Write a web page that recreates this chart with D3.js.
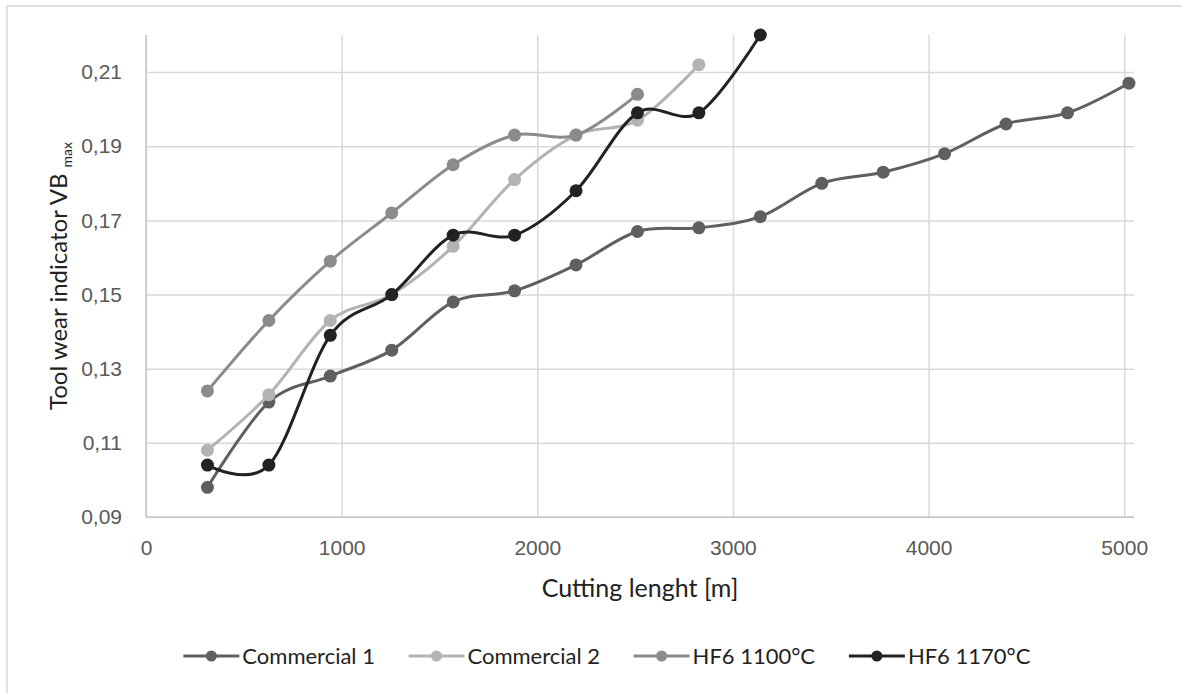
<!DOCTYPE html>
<html lang="en">
<head>
    <meta charset="UTF-8">
    <title>Tool wear vs cutting length</title>
    <style>
    body { margin: 0; background: #fff; }
    svg { font-family: Lato, "Open Sans", sans-serif; }
    .line { fill: none; stroke-width: 3px; }
    .grid line { stroke: #d9d9d9; stroke-width: 1.5px; }
    .grid path { stroke: none; }
    .tick text { fill: #595959; font-size: 21px; }
    </style>
</head>
<body>
    <svg width="1182" height="693"></svg>
    <script src="https://d3js.org/d3.v7.min.js"></script>
    <script type="text/javascript">
        // cutting length [m] at each measurement
        var cuttingLength = [314, 628, 942, 1256, 1570, 1884, 2198, 2512, 2826, 3140, 3454, 3768, 4082, 4396, 4710, 5024];

        // VBmax per series
        var commercial1 = [0.098, 0.121, 0.128, 0.135, 0.148, 0.151, 0.158, 0.167, 0.168, 0.171, 0.180, 0.183, 0.188, 0.196, 0.199, 0.207];
        var commercial2 = [0.108, 0.123, 0.143, 0.150, 0.163, 0.181, 0.193, 0.197, 0.212];
        var hf6_1100 = [0.124, 0.143, 0.159, 0.172, 0.185, 0.193, 0.193, 0.204];
        var hf6_1170 = [0.104, 0.104, 0.139, 0.150, 0.166, 0.166, 0.178, 0.199, 0.199, 0.220];

        var seriesNames = ["Commercial 1", "Commercial 2", "HF6 1100°C", "HF6 1170°C"];
        var seriesColors = ["#5f5f5f", "#b3b3b3", "#8b8b8b", "#222222"];

        var xTicks = [0, 1000, 2000, 3000, 4000, 5000];
        var yTicks = [0.09, 0.11, 0.13, 0.15, 0.17, 0.19, 0.21];

        var svg = d3.select("svg"),
            plot = {left: 146, right: 1134, top: 35, bottom: 517};

        var x = d3.scaleLinear().domain([0, 5050]).range([plot.left, plot.right]),
            y = d3.scaleLinear().domain([0.09, 0.22]).range([plot.bottom, plot.top]);

        var comma = d3.formatLocale({decimal: ",", thousands: ".", grouping: [3], currency: ["", ""]});

        // chart area border (only left and top are in the picture)
        svg.append("path")
          .attr("d", "M7,693V6H1182")
          .attr("fill", "none")
          .attr("stroke", "#d9d9d9")
          .attr("stroke-width", 1.5);

        // vertical grid + x labels
        var gx = svg.append("g")
          .attr("class", "grid")
          .attr("transform", "translate(0," + plot.bottom + ")")
          .call(d3.axisBottom(x).tickValues(xTicks).tickSize(-(plot.bottom - plot.top)).tickFormat(d3.format("d")));
        gx.selectAll(".tick text").attr("y", 38).attr("dy", 0);

        // horizontal grid + y labels
        svg.append("g")
          .attr("class", "grid")
          .attr("transform", "translate(" + plot.left + ",0)")
          .call(d3.axisLeft(y).tickValues(yTicks).tickSize(-(plot.right - plot.left)).tickPadding(24).tickFormat(comma.format(".2f")));

        // axis lines
        svg.append("line")
          .attr("x1", plot.left).attr("x2", plot.left).attr("y1", plot.top).attr("y2", plot.bottom)
          .attr("stroke", "#c8c8c8").attr("stroke-width", 1.5);
        svg.append("line")
          .attr("x1", plot.left).attr("x2", plot.right).attr("y1", plot.bottom).attr("y2", plot.bottom)
          .attr("stroke", "#c8c8c8").attr("stroke-width", 1.5);

        // axis titles
        svg.append("text")
          .attr("x", (plot.left + plot.right) / 2)
          .attr("y", 597)
          .attr("text-anchor", "middle")
          .attr("fill", "#222")
          .attr("font-size", 25)
          .text("Cutting lenght [m]");

        var yt = svg.append("text")
          .attr("transform", "translate(67," + (plot.top + plot.bottom) / 2 + ") rotate(-90)")
          .attr("text-anchor", "middle")
          .attr("fill", "#222")
          .attr("font-size", 24);
        yt.append("tspan").text("Tool wear indicator VB ");
        yt.append("tspan").attr("font-size", 14).attr("dy", 5).text("max");

        var line = d3.line()
          .curve(d3.curveCardinal.tension(0))
          .x(function(d) { return x(d.len); })
          .y(function(d) { return y(d.value); });

        var data = [commercial1, commercial2, hf6_1100, hf6_1170].map(function(values, i) {
          return {
            name: seriesNames[i],
            stroke: seriesColors[i],
            points: values.map(function(v, j) { return {len: cuttingLength[j], value: v}; })
          };
        });

        var signals = svg.selectAll(".signal")
          .data(data)
          .enter().append("g")
            .attr("class", "signal");

        signals.append("path")
          .attr("class", "line")
          .attr("d", function(d) { return line(d.points); })
          .attr("stroke", function(d) { return d.stroke; });

        signals.each(function(d) {
          d3.select(this).selectAll("circle")
            .data(d.points)
            .enter().append("circle")
              .attr("cx", function(p) { return x(p.len); })
              .attr("cy", function(p) { return y(p.value); })
              .attr("r", 6.5)
              .attr("fill", d.stroke);
        });

        // legend
        var legend = svg.append("g").attr("transform", "translate(0,656)");
        var items = legend.selectAll("g")
          .data(data)
          .enter().append("g");
        items.append("line")
          .attr("x1", 0).attr("x2", 56)
          .attr("stroke", function(d) { return d.stroke; })
          .attr("stroke-width", 3);
        items.append("circle")
          .attr("cx", 28).attr("r", 5.5)
          .attr("fill", function(d) { return d.stroke; });
        items.append("text")
          .attr("x", 59)
          .attr("dy", "0.35em")
          .attr("fill", "#222")
          .attr("font-size", 22)
          .text(function(d) { return d.name; });

        var gap = 33.5, pos = 0, offsets = [];
        items.each(function() {
          offsets.push(pos);
          pos += this.getBBox().width + gap;
        });
        var startX = 607 - (pos - gap) / 2;
        items.attr("transform", function(d, i) { return "translate(" + (startX + offsets[i]) + ",0)"; });
    </script>
</body>
</html>
